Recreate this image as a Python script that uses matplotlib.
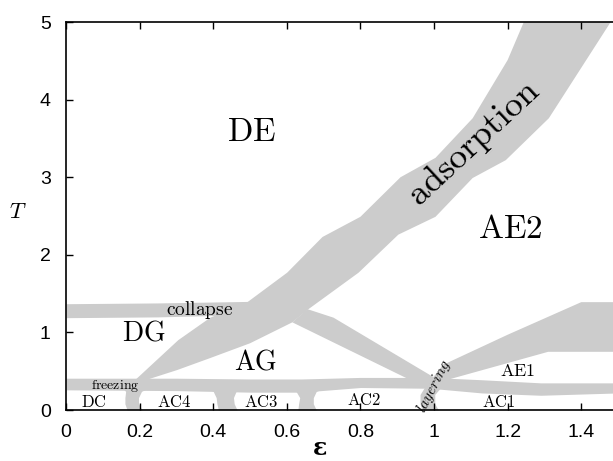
import numpy as np
import matplotlib
matplotlib.use("Agg")
import matplotlib.pyplot as plt

plt.rcParams['mathtext.fontset'] = 'cm'
plt.rcParams['font.family'] = ['Liberation Sans', 'DejaVu Sans']

GRAY = '#cccccc'

# ---- phase boundary bands (data coordinates: epsilon, T) ----
# adsorption band: upper-left edge and lower-right edge
ads_ul_x = [0.182, 0.305, 0.392, 0.493, 0.601, 0.697, 0.800, 0.909, 1.004, 1.105, 1.200, 1.244]
ads_ul_y = [0.36, 0.90, 1.19, 1.39, 1.77, 2.23, 2.49, 3.00, 3.25, 3.76, 4.51, 5.00]
ads_lr_x = [0.200, 0.302, 0.392, 0.500, 0.615, 0.656, 0.795, 0.903, 1.004, 1.105, 1.195, 1.312, 1.480]
ads_lr_y = [0.36, 0.515, 0.67, 0.86, 1.13, 1.29, 1.77, 2.26, 2.49, 2.99, 3.22, 3.76, 5.00]

# collapse band (left part)
col_x = [0.0, 0.25, 0.50]
col_hi = [1.37, 1.38, 1.40]
col_lo = [1.19, 1.20, 1.23]

# collapse band continuation (right of adsorption) polygon
col2_x = [0.656, 0.727, 1.000, 0.960, 0.615]
col2_y = [1.30, 1.19, 0.42, 0.33, 1.13]

# freezing band
frz_x = [0.0, 0.30, 0.50, 0.64, 0.80, 0.99, 1.13, 1.29, 1.50]
frz_hi = [0.41, 0.41, 0.40, 0.40, 0.42, 0.42, 0.39, 0.35, 0.35]
frz_lo = [0.26, 0.25, 0.23, 0.23, 0.29, 0.28, 0.22, 0.19, 0.22]

# AE1 / AE2 band polygon
ae_x = [1.000, 1.037, 1.200, 1.400, 1.500, 1.500, 1.310, 1.037]
ae_y = [0.40, 0.61, 0.97, 1.39, 1.39, 0.75, 0.75, 0.39]

# low-temperature crystalline boundaries (vertical bands)
ac_y = [0.0, 0.08, 0.16, 0.24, 0.30]
dc_ac4_l = [0.166, 0.160, 0.160, 0.162, 0.150]
dc_ac4_r = [0.207, 0.197, 0.197, 0.205, 0.230]
ac4_ac3_l = [0.414, 0.410, 0.408, 0.400, 0.380]
ac4_ac3_r = [0.465, 0.457, 0.455, 0.462, 0.490]
ac3_ac2_l = [0.630, 0.632, 0.635, 0.625, 0.600]
ac3_ac2_r = [0.680, 0.672, 0.672, 0.680, 0.710]

# layering band
lay_y = [0.0, 0.08, 0.20, 0.30, 0.45, 0.60]
lay_l = [0.968, 0.962, 0.962, 0.975, 1.000, 1.025]
lay_r = [1.012, 1.002, 1.002, 1.020, 1.042, 1.060]

# ---- labels ----
labels = [
    (r'$\mathrm{DE}$', 0.505, 3.58, 24, 0),
    (r'$\mathrm{AE2}$', 1.207, 2.32, 24, 0),
    (r'$\mathrm{adsorption}$', 1.109, 3.44, 26, 43),
    (r'$\mathrm{DG}$', 0.212, 0.99, 20, 0),
    (r'$\mathrm{AG}$', 0.516, 0.61, 20, 0),
    (r'$\mathrm{collapse}$', 0.364, 1.29, 14, 0),
    (r'$\mathrm{freezing}$', 0.133, 0.31, 10, 0),
    (r'$\mathrm{DC}$', 0.076, 0.10, 12, 0),
    (r'$\mathrm{AC4}$', 0.293, 0.10, 12, 0),
    (r'$\mathrm{AC3}$', 0.530, 0.10, 12, 0),
    (r'$\mathrm{AC2}$', 0.810, 0.13, 12, 0),
    (r'$\mathrm{AC1}$', 1.177, 0.10, 12, 0),
    (r'$\mathrm{AE1}$', 1.226, 0.50, 13, 0),
    (r'$\mathit{layering}$', 1.000, 0.31, 11, 63),
]

xticks = [0, 0.2, 0.4, 0.6, 0.8, 1.0, 1.2, 1.4]
xticklabels = ['0', '0.2', '0.4', '0.6', '0.8', '1', '1.2', '1.4']
yticks = [0, 1, 2, 3, 4, 5]

fig = plt.figure(figsize=(6.13, 4.61), dpi=100)
ax = fig.add_axes([0.1077, 0.1106, 0.9005, 0.8416])

kw = dict(color=GRAY, lw=0, zorder=1)
ax.fill(np.concatenate([ads_ul_x, ads_lr_x[::-1]]),
        np.concatenate([ads_ul_y, ads_lr_y[::-1]]), **kw)
ax.fill_between(col_x, col_lo, col_hi, **kw)
ax.fill(col2_x, col2_y, **kw)
ax.fill_between(frz_x, frz_lo, frz_hi, **kw)
ax.fill(ae_x, ae_y, **kw)
for xl, xr in [(dc_ac4_l, dc_ac4_r), (ac4_ac3_l, ac4_ac3_r), (ac3_ac2_l, ac3_ac2_r)]:
    ax.fill_betweenx(ac_y, xl, xr, **kw)
ax.fill_betweenx(lay_y, lay_l, lay_r, **kw)

for s, x, y, fs, rot in labels:
    ax.text(x, y, s, fontsize=fs, rotation=rot, ha='center', va='center',
            color='black', zorder=3)

ax.set_xlim(0, 1.5)
ax.set_ylim(0, 5)
ax.set_xticks(xticks)
ax.set_xticklabels(xticklabels)
ax.set_yticks(yticks)
ax.tick_params(direction='in', top=True, right=False, length=5, width=1,
               labelsize=14)
ax.tick_params(axis='x', pad=10)
ax.tick_params(axis='y', pad=11)
for sp in ax.spines.values():
    sp.set_linewidth(1.2)
ax.spines['right'].set_visible(False)

ax.text(0.461, -0.098, 'ε', transform=ax.transAxes, fontsize=17,
        fontweight='bold', family='DejaVu Serif', ha='center', va='center')
ax.text(-0.087, 0.508, r'$T$', transform=ax.transAxes, fontsize=16,
        ha='center', va='center')

fig.savefig('out.png', dpi=100)
